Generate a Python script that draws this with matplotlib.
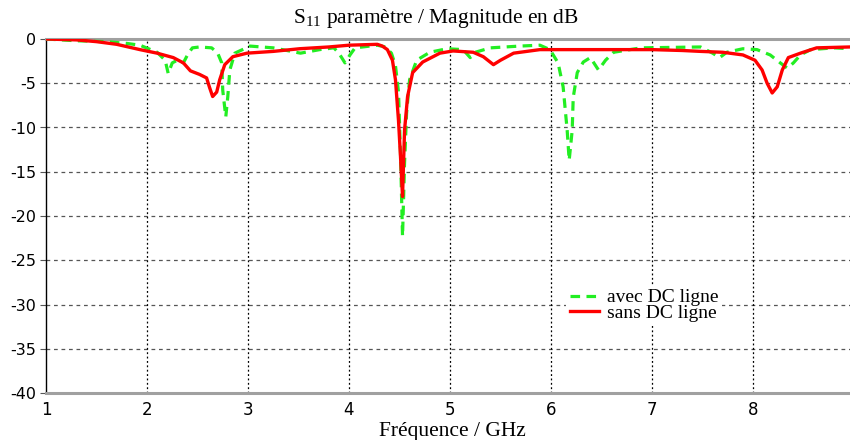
import matplotlib
matplotlib.use("Agg")
import matplotlib.pyplot as plt

# ---- data ----
freq_sans = [1.0, 1.3, 1.5, 1.7, 1.93, 2.10, 2.26, 2.36, 2.43, 2.52,
             2.59, 2.62, 2.65, 2.69, 2.72, 2.77, 2.85, 2.99, 3.25, 3.51,
             3.8, 4.0, 4.28, 4.33, 4.38, 4.43, 4.46, 4.49, 4.51, 4.53,
             4.55, 4.58, 4.63, 4.73, 4.90, 5.03, 5.23, 5.33, 5.43, 5.50,
             5.63, 5.89, 6.2, 6.6, 7.0, 7.3, 7.48, 7.7, 7.9, 8.02,
             8.09, 8.14, 8.19, 8.24, 8.29, 8.35, 8.47, 8.63, 8.96]
s11_sans = [0, -0.1, -0.3, -0.6, -1.2, -1.6, -2.1, -2.7, -3.6, -4.0,
            -4.4, -5.5, -6.5, -6.0, -4.6, -2.9, -2.0, -1.6, -1.4, -1.1,
            -0.9, -0.7, -0.6, -0.8, -1.2, -2.4, -4.6, -9.2, -13.3, -17.8,
            -10.3, -6.5, -3.8, -2.6, -1.6, -1.35, -1.5, -2.0, -2.9, -2.4,
            -1.6, -1.2, -1.2, -1.2, -1.2, -1.3, -1.4, -1.5, -1.8, -2.4,
            -3.5, -5.0, -6.1, -5.4, -3.5, -2.1, -1.6, -1.0, -0.9]

freq_avec = [1.0, 1.3, 1.6, 1.8, 1.93, 2.10, 2.18, 2.21, 2.25, 2.30,
             2.36, 2.41, 2.45, 2.52, 2.64, 2.70, 2.74, 2.75, 2.78, 2.80,
             2.82, 2.87, 3.02, 3.25, 3.52, 3.71, 3.85, 3.90, 3.96, 4.01,
             4.06, 4.28, 4.36, 4.42, 4.46, 4.49, 4.51, 4.53, 4.55, 4.57,
             4.60, 4.67, 4.80, 4.97, 5.13, 5.20, 5.25, 5.40, 5.69, 5.89,
             5.99, 6.07, 6.12, 6.16, 6.18, 6.21, 6.22, 6.26, 6.32, 6.39,
             6.47, 6.54, 6.62, 6.89, 7.48, 7.6, 7.67, 7.74, 7.9, 8.04,
             8.17, 8.27, 8.34, 8.40, 8.47, 8.57, 8.80, 8.96]
s11_avec = [0, -0.2, -0.3, -0.5, -0.7, -1.5, -2.4, -3.9, -2.7, -2.4,
            -2.7, -1.6, -1.0, -0.9, -1.0, -1.6, -2.7, -5.8, -8.8, -6.5,
            -3.5, -1.6, -0.8, -1.0, -1.6, -1.2, -1.0, -1.6, -2.7, -1.8,
            -1.0, -0.7, -0.9, -1.6, -3.0, -6.0, -13.0, -22.3, -14.0, -8.4,
            -4.6, -2.4, -1.5, -1.1, -1.2, -2.1, -1.5, -1.0, -0.8, -0.7,
            -1.2, -2.7, -5.4, -10.3, -13.7, -10.3, -6.6, -3.8, -2.6, -2.1,
            -3.5, -2.4, -1.5, -1.0, -0.9, -1.6, -2.1, -1.5, -1.1, -1.2,
            -1.8, -2.7, -3.3, -2.7, -1.8, -1.2, -1.0, -1.1]

xticks = [1, 2, 3, 4, 5, 6, 7, 8, 9]
yticks = [0, -5, -10, -15, -20, -25, -30, -35, -40]
title = r"$\mathregular{S_{11}}$ paramètre / Magnitude en dB"
xlabel = "Fréquence / GHz"
labels = ["avec DC ligne", "sans DC ligne"]

W, H = 850, 440
fig = plt.figure(figsize=(W / 100, H / 100), dpi=100)
fig.patch.set_facecolor("white")
ax = fig.add_axes([46 / W, 47 / H, 808 / W, 354 / H])

ax.plot(freq_avec, s11_avec, color="#22ee22", lw=2.3, dashes=(3, 2),
        label=labels[0], zorder=3)
ax.plot(freq_sans, s11_sans, color="#ff0000", lw=2.4, label=labels[1],
        zorder=4, solid_joinstyle="round")

ax.set_xlim(1, 9)
ax.set_ylim(-40, 0)
ax.set_xticks(xticks)
ax.set_yticks(yticks)
ax.set_yticklabels([str(v) for v in yticks])

for v in yticks[1:-1]:
    ax.axhline(v, color="#555555", lw=0.9, ls=(0, (3, 3)), zorder=1)
for v in xticks[1:-1]:
    ax.axvline(v, color="#000000", lw=0.9, ls=(0, (1.5, 2)), zorder=1)

for s in ["top", "bottom"]:
    ax.spines[s].set_color("#a0a0a0")
    ax.spines[s].set_linewidth(2.2)
ax.spines["right"].set_visible(False)
ax.spines["left"].set_color("black")
ax.spines["left"].set_linewidth(1.0)

ax.tick_params(axis="y", length=4, width=0.8, color="#555555", pad=3,
               labelsize=11.5)
ax.tick_params(axis="x", length=0, pad=6, labelsize=12)
for lab in ax.get_xticklabels() + ax.get_yticklabels():
    lab.set_fontfamily("DejaVu Sans")

fig.text(436 / W, 1 - 19 / H, title, fontfamily="Liberation Serif",
         fontsize=15.5, ha="center", va="center")
fig.text(452 / W, 1 - 431 / H, xlabel, fontfamily="Liberation Serif",
         fontsize=15.5, ha="center", va="center")

leg = ax.legend(loc="upper left", bbox_to_anchor=(566 / W, 1 - 285 / H),
                bbox_transform=fig.transFigure, frameon=True,
                prop={"family": "Liberation Serif", "size": 14},
                handlelength=1.5, handletextpad=0.4, labelspacing=-0.1,
                borderpad=0.2, borderaxespad=0)
leg.get_frame().set_facecolor("white")
leg.get_frame().set_edgecolor("none")
leg.get_frame().set_alpha(1)
leg.set_zorder(5)

fig.savefig("out.png", dpi=100, facecolor="white")
